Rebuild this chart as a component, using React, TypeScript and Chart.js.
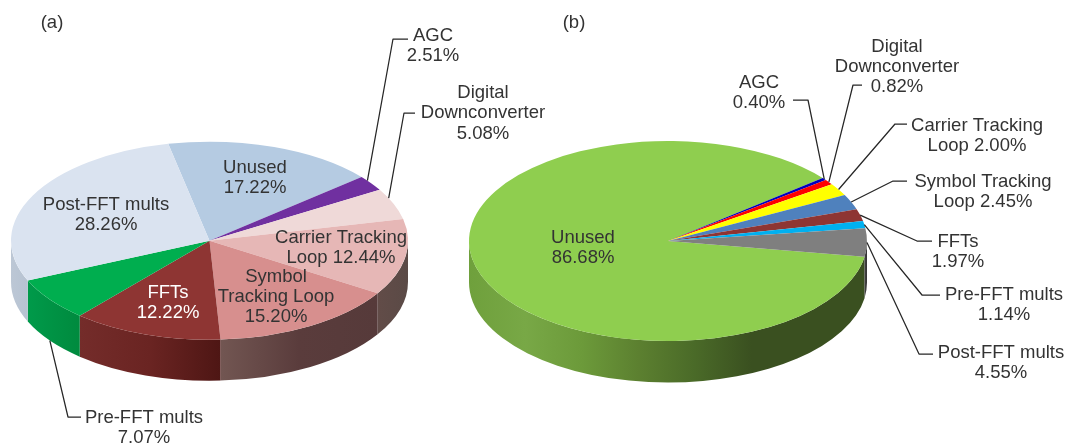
import React, { useEffect, useRef } from "react";
import { Chart, registerables } from "chart.js";

Chart.register(...registerables);

const FONT = '"Liberation Sans", Arial, sans-serif';
const TEXT_SIZE = 18.5;
const INK = "#333333";

// Resource utilisation, design (a)
const categoriesA = ["Unused", "AGC", "Digital Downconverter", "Carrier Tracking Loop", "Symbol Tracking Loop", "FFTs", "Pre-FFT mults", "Post-FFT mults"];
const valuesA = [17.22, 2.51, 5.08, 12.44, 15.2, 12.22, 7.07, 28.26];
const topColorsA = ["#b5cbe2", "#7030a0", "#efd9d8", "#e6b7b6", "#d78f8e", "#8e3533", "#00ae4f", "#dae3f0"];
const wallColorsA = [
  ["#8a9bb0", "#8a9bb0"],
  ["#4a2070", "#4a2070"],
  ["#6a5a58", "#6a5a58"],
  ["#5a4a46", "#624c48"],
  ["#563a3a", "#5a3c3c", "#725652"],
  ["#4e1614", "#6a2422", "#742c2a"],
  ["#008a3e", "#009a4a"],
  ["#b7c3d2", "#bcc7d5"],
];

// Resource utilisation, design (b)
const categoriesB = ["Unused", "AGC", "Digital Downconverter", "Carrier Tracking Loop", "Symbol Tracking Loop", "FFTs", "Pre-FFT mults", "Post-FFT mults"];
const valuesB = [86.68, 0.4, 0.82, 2.0, 2.45, 1.97, 1.14, 4.55];
const topColorsB = ["#8fce4f", "#0000c0", "#ff0000", "#ffff00", "#4f81bd", "#8e3533", "#00b0f0", "#7f7f7f"];
const wallColorsB = [
  ["#3a5020", "#3a5020", "#3a5020", "#4a6a28", "#5c8030", "#6c9a3a", "#78a846", "#6fa03c"],
  ["#00006a", "#00006a"],
  ["#8a0000", "#8a0000"],
  ["#8a8a00", "#8a8a00"],
  ["#2a4668", "#2a4668"],
  ["#4e1614", "#4e1614"],
  ["#006a90", "#006a90"],
  ["#333333", "#444444"],
];

// Text templates per slice; {v} is replaced with the slice's value
const linesA = [["Unused", "{v}"], ["AGC", "{v}"], ["Digital", "Downconverter", "{v}"], ["Carrier Tracking", "Loop {v}"], ["Symbol", "Tracking Loop", "{v}"], ["FFTs", "{v}"], ["Pre-FFT mults", "{v}"], ["Post-FFT mults", "{v}"]];
const linesB = [["Unused", "{v}"], ["AGC", "{v}"], ["Digital", "Downconverter", "{v}"], ["Carrier Tracking", "Loop {v}"], ["Symbol Tracking", "Loop {v}"], ["FFTs", "{v}"], ["Pre-FFT mults", "{v}"], ["Post-FFT mults", "{v}"]];

// Placement of the text blocks: centre x, first line's middle y
const textAtA = [[255, 167.5], [433, 36], [483, 93], [341, 237.5], [276, 276.5], [168, 292.5], [144, 417.5], [106, 204.5]];
const textAtB = [[583, 237.5], [759, 82.5], [897, 46.5], [977, 125.5], [983, 181.5], [958, 241.5], [1004, 294.5], [1001, 352.5]];
const textColorsA = [INK, INK, INK, INK, INK, "#ffffff", INK, INK];

// Callout lines: slice index, elbow point, end point, and how far along the slice's rim the line starts
const calloutsA = [
  { slice: 1, elbow: [393, 39], end: [408, 39], along: 0.3 },
  { slice: 2, elbow: [404, 113], end: [415, 113], along: 0.3 },
  { slice: 6, elbow: [68, 417], end: [81, 417], fromWall: true },
];
const calloutsB = [
  { slice: 1, elbow: [808, 100], end: [793, 100] },
  { slice: 2, elbow: [853, 85], end: [862, 85] },
  { slice: 3, elbow: [895, 124], end: [907, 124] },
  { slice: 4, elbow: [893, 181], end: [907, 181] },
  { slice: 5, elbow: [917, 241], end: [932, 241] },
  { slice: 6, elbow: [922, 295], end: [940, 295] },
  { slice: 7, elbow: [919, 354], end: [933, 354] },
];

type PieSpec = {
  caption: string;
  captionX: number;
  categories: string[];
  values: number[];
  topColors: string[];
  wallColors: string[][];
  lines: string[][];
  textAt: number[][];
  textColors?: string[];
  callouts: { slice: number; elbow: number[]; end: number[]; fromWall?: boolean; along?: number }[];
  rotation: number;
  cx: number;
  cy: number;
  rx: number;
  ry: number;
  depth: number;
};

const specs: PieSpec[] = [
  { caption: "(a)", captionX: 52, categories: categoriesA, values: valuesA, topColors: topColorsA, wallColors: wallColorsA, lines: linesA, textAt: textAtA, textColors: textColorsA, callouts: calloutsA, rotation: -12, cx: 209.5, cy: 240.7, rx: 198.5, ry: 99, depth: 41 },
  { caption: "(b)", captionX: 574, categories: categoriesB, values: valuesB, topColors: topColorsB, wallColors: wallColorsB, lines: linesB, textAt: textAtB, callouts: calloutsB, rotation: 99, cx: 668, cy: 241, rx: 199, ry: 100, depth: 41.5 },
];

const CANVAS_W = 1065;
const CANVAS_H = 443;

function tiltedPiePlugin(spec: PieSpec) {
  const { cx, cy, rx, ry, depth } = spec;
  const TAU = Math.PI * 2;

  return {
    id: "tiltedPie",
    // Side walls first, then leave the context squashed so the library's arcs land on the ellipse
    beforeDatasetsDraw(chart: any) {
      const ctx = chart.ctx;
      const arcs = chart.getDatasetMeta(0).data;
      arcs.forEach((arc: any, i: number) => {
        for (const k of [-TAU, 0, TAU]) {
          const a = Math.max(arc.startAngle + k, 0);
          const b = Math.min(arc.endAngle + k, Math.PI);
          if (b <= a) continue;
          const xa = cx + rx * Math.cos(a);
          const xb = cx + rx * Math.cos(b);
          // Colour lists run from the right-hand end of a wall to its left-hand end
          const grad = ctx.createLinearGradient(xa, 0, xb, 0);
          const stops = spec.wallColors[i];
          stops.forEach((c, n) => grad.addColorStop(n / (stops.length - 1), c));
          ctx.beginPath();
          ctx.ellipse(cx, cy, rx, ry, 0, a, b);
          ctx.ellipse(cx, cy + depth, rx, ry, 0, b, a, true);
          ctx.closePath();
          ctx.fillStyle = grad;
          ctx.fill();
        }
      });
      const first = arcs[0];
      ctx.save();
      ctx.translate(cx, cy);
      ctx.scale(1, ry / rx);
      ctx.translate(-first.x, -first.y);
    },
    afterDatasetsDraw(chart: any) {
      chart.ctx.restore();
    },
    // Callouts, caption and slice text sit on top, unsquashed
    afterDraw(chart: any) {
      const ctx = chart.ctx;
      const arcs = chart.getDatasetMeta(0).data;
      ctx.save();
      ctx.strokeStyle = "#262626";
      ctx.lineWidth = 1.25;
      ctx.lineJoin = "round";
      for (const c of spec.callouts) {
        const arc = arcs[c.slice];
        const t = c.along ?? 0.5;
        const mid = arc.startAngle + (arc.endAngle - arc.startAngle) * t;
        const px = cx + rx * Math.cos(mid);
        const py = cy + ry * Math.sin(mid) + (c.fromWall ? depth : 0);
        ctx.beginPath();
        ctx.moveTo(px, py);
        ctx.lineTo(c.elbow[0], c.elbow[1]);
        ctx.lineTo(c.end[0], c.end[1]);
        ctx.stroke();
      }
      ctx.font = `${TEXT_SIZE}px ${FONT}`;
      ctx.textBaseline = "middle";
      ctx.textAlign = "center";
      spec.lines.forEach((lines, i) => {
        const [tx, ty] = spec.textAt[i];
        const v = spec.values[i].toFixed(2) + "%";
        ctx.fillStyle = spec.textColors ? spec.textColors[i] : INK;
        lines.forEach((l, n) => ctx.fillText(l.replace("{v}", v), tx, ty + n * 20.4));
      });
      ctx.fillStyle = INK;
      ctx.fillText(spec.caption, spec.captionX, 23);
      ctx.restore();
    },
  };
}

function TiltedPie({ spec }: { spec: PieSpec }) {
  const ref = useRef<HTMLCanvasElement>(null);
  useEffect(() => {
    const chart = new Chart(ref.current as HTMLCanvasElement, {
      type: "pie",
      data: {
        labels: spec.categories,
        datasets: [{ data: spec.values, backgroundColor: spec.topColors, borderWidth: 0, hoverOffset: 0, clip: false } as any],
      },
      options: {
        animation: false,
        responsive: false,
        rotation: spec.rotation,
        layout: {
          padding: {
            left: spec.cx - spec.rx,
            right: CANVAS_W - spec.cx - spec.rx,
            top: (CANVAS_H - 2 * spec.rx) / 2,
            bottom: (CANVAS_H - 2 * spec.rx) / 2,
          },
        },
        plugins: { legend: { display: false }, tooltip: { enabled: false } },
      } as any,
      plugins: [tiltedPiePlugin(spec)],
    });
    return () => chart.destroy();
  }, [spec]);
  return (
    <canvas
      ref={ref}
      width={CANVAS_W}
      height={CANVAS_H}
      style={{ position: "absolute", left: 0, top: 0, width: CANVAS_W, height: CANVAS_H }}
    />
  );
}

export default function App() {
  return (
    <div style={{ position: "absolute", left: 0, top: 0, width: CANVAS_W, height: CANVAS_H, background: "#fff", overflow: "hidden" }}>
      {specs.map((s) => (
        <TiltedPie key={s.caption} spec={s} />
      ))}
    </div>
  );
}
